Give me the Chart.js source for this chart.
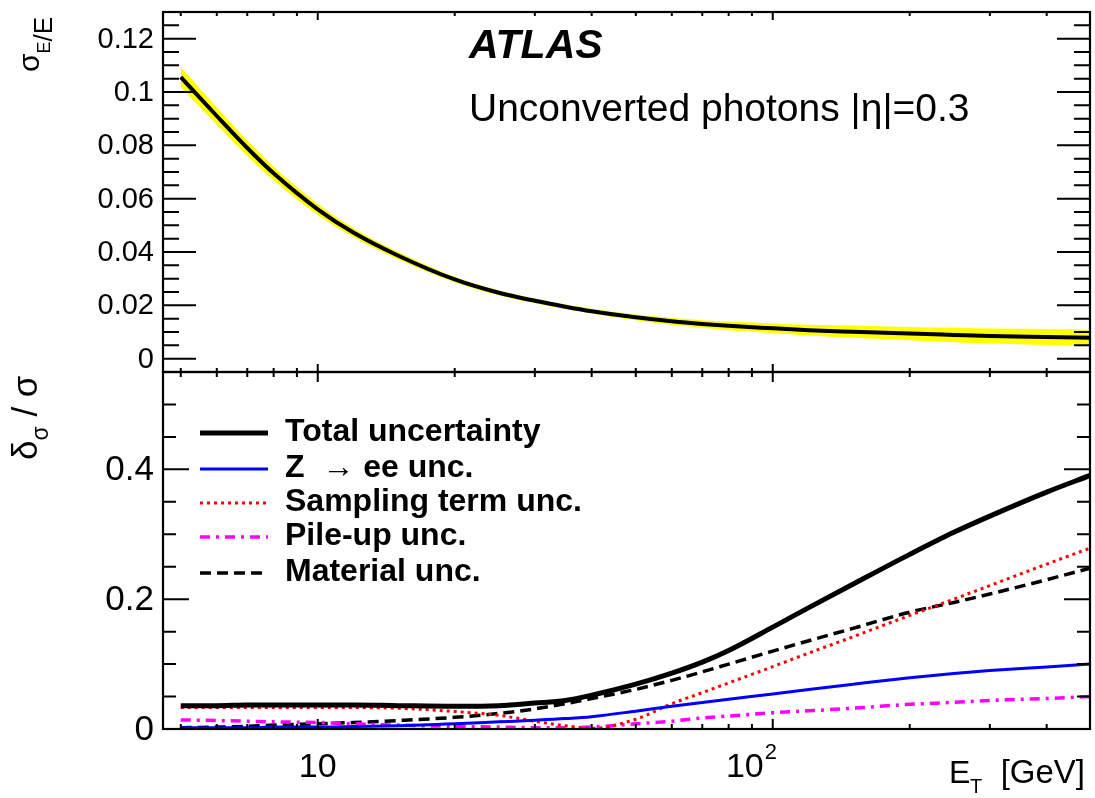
<!DOCTYPE html>
<html><head><meta charset="utf-8">
<script src="https://cdn.jsdelivr.net/npm/chart.js@4.4.1/dist/chart.umd.min.js"></script>
<style>
html,body{margin:0;padding:0;background:#fff;}
#wrap{position:relative;width:1095px;height:798px;overflow:hidden;background:#fff;}
#wrap canvas{position:absolute;left:0;top:0;}
</style></head><body>
<div id="wrap">
<canvas id="cTop" width="1095" height="798"></canvas>
<canvas id="cBot" width="1095" height="798"></canvas>
</div>
<script>
// ---------------- data ----------------
const energies    = [5, 6, 7, 8, 10, 12, 15, 20, 25, 30, 35, 40, 50, 60, 70, 80, 100, 120, 150, 200, 250, 300, 400, 500];
const resolution  = [0.1056,0.091,0.079,0.0695,0.0560,0.0472,0.0387,0.0297,0.0247,0.0217,0.0195,0.0178,0.0155,0.0140,0.0130,0.0123,0.0114,0.0107,0.0101,0.0094,0.0089,0.0085,0.0081,0.0078];
const bandUpper   = [0.1094,0.0943,0.0819,0.0721,0.0581,0.0489,0.0401,0.0307,0.0256,0.0226,0.0204,0.0187,0.0166,0.0153,0.0144,0.0139,0.0132,0.0127,0.0124,0.0119,0.0116,0.0113,0.0111,0.0108];
const bandLower   = [0.1018,0.0877,0.0761,0.0669,0.0539,0.0455,0.0373,0.0287,0.0238,0.0208,0.0186,0.0169,0.0144,0.0127,0.0116,0.0107,0.0096,0.0087,0.0078,0.0069,0.0062,0.0057,0.0051,0.0048];
const totalUnc    = [0.036,0.036,0.037,0.037,0.037,0.037,0.036,0.035,0.036,0.040,0.044,0.052,0.069,0.086,0.103,0.121,0.157,0.187,0.223,0.269,0.303,0.328,0.365,0.391];
const zeeUnc      = [0.002,0.002,0.002,0.003,0.003,0.004,0.005,0.008,0.011,0.0135,0.016,0.019,0.0275,0.035,0.041,0.046,0.054,0.061,0.069,0.079,0.0855,0.090,0.0955,0.1004];
const samplingUnc = [0.033,0.033,0.033,0.033,0.033,0.033,0.032,0.027,0.021,0.012,0.005,0.001,0.015,0.039,0.056,0.071,0.096,0.117,0.142,0.175,0.200,0.221,0.254,0.279];
const pileupUnc   = [0.014,0.013,0.012,0.011,0.010,0.008,0.006,0.004,0.003,0.002,0.002,0.003,0.008,0.012,0.017,0.020,0.025,0.028,0.032,0.038,0.041,0.044,0.047,0.050];
const materialUnc = [0.002,0.003,0.004,0.006,0.008,0.010,0.013,0.018,0.024,0.031,0.039,0.047,0.061,0.075,0.088,0.100,0.120,0.136,0.155,0.180,0.195,0.208,0.230,0.248];

const seriesLabels = ['Total uncertainty', 'Z  \u2192 ee unc.', 'Sampling term unc.', 'Pile-up unc.', 'Material unc.'];

// ---------------- ticks ----------------
const xMajorTicks = [10, 100];
const xMinorTicks = [5, 6, 7, 8, 9, 20, 30, 40, 50, 60, 70, 80, 90, 200, 300, 400];
const xTickBase   = ['10', '10'];
const xTickExp    = ['', '2'];
const yTopMajor   = [0, 0.02, 0.04, 0.06, 0.08, 0.1, 0.12];
const yTopLabels  = ['0', '0.02', '0.04', '0.06', '0.08', '0.1', '0.12'];
const yBotMajor   = [0, 0.2, 0.4];
const yBotLabels  = ['0', '0.2', '0.4'];
const yTopMinorStep = 0.005;
const yBotMinorStep = 0.05;

const FONT = '"Liberation Sans", Arial, Helvetica, sans-serif';

function pts(arr) { return energies.map((e, i) => ({x: e, y: arr[i]})); }

function minorList(min, max, step, majors) {
  const out = [];
  for (let k = Math.ceil(min / step - 1e-9); k * step <= max + 1e-9; k++) {
    const v = +(k * step).toFixed(6);
    if (!majors.some(m => Math.abs(m - v) < 1e-9)) out.push(v);
  }
  return out;
}

function rotatedRuns(ctx, x, y, runs) {
  ctx.save();
  ctx.translate(x, y);
  ctx.rotate(-Math.PI / 2);
  ctx.textAlign = 'left';
  ctx.textBaseline = 'alphabetic';
  let cx = 0;
  runs.forEach(r => {
    ctx.font = r.font;
    ctx.fillText(r.text, cx, r.dy || 0);
    cx += ctx.measureText(r.text).width + (r.gap || 0);
  });
  ctx.restore();
}

function rootFrame(o) {
  return {
    id: 'rootFrame',
    afterDraw(chart) {
      const ctx = chart.ctx, a = chart.chartArea, xs = chart.scales.x, ys = chart.scales.y;
      ctx.save();
      ctx.strokeStyle = '#000';
      ctx.lineWidth = 2;
      const xt = (list, len) => list.forEach(v => {
        const p = xs.getPixelForValue(v);
        ctx.beginPath();
        ctx.moveTo(p, a.bottom); ctx.lineTo(p, a.bottom - len);
        ctx.moveTo(p, a.top); ctx.lineTo(p, a.top + len);
        ctx.stroke();
      });
      xt(xMajorTicks, o.xMaj); xt(xMinorTicks, o.xMin);
      const yt = (list, len) => list.forEach(v => {
        const p = ys.getPixelForValue(v);
        ctx.beginPath();
        ctx.moveTo(a.left, p); ctx.lineTo(a.left + len, p);
        ctx.moveTo(a.right, p); ctx.lineTo(a.right - len, p);
        ctx.stroke();
      });
      yt(o.yMajor, o.yMaj);
      yt(minorList(ys.min, ys.max, o.yStep, o.yMajor), o.yMin);
      ctx.lineWidth = 2.2;
      ctx.strokeRect(a.left, a.top, a.right - a.left, a.bottom - a.top);
      ctx.fillStyle = '#000';
      ctx.font = o.yFont;
      ctx.textAlign = 'right';
      ctx.textBaseline = 'middle';
      o.yMajor.forEach((v, i) => ctx.fillText(o.yLabels[i], a.left - 9, ys.getPixelForValue(v) + 1));
      if (o.extra) o.extra(chart, ctx, a, xs, ys);
      ctx.restore();
    }
  };
}

const common = {
  responsive: false,
  animation: false,
  devicePixelRatio: 1,
  events: [],
  plugins: { legend: { display: false }, tooltip: { enabled: false } },
  elements: { point: { radius: 0 }, line: { cubicInterpolationMode: 'monotone' } }
};

// ---------------- top panel ----------------
new Chart(document.getElementById('cTop'), {
  type: 'line',
  data: {
    datasets: [
      { data: pts(resolution), borderColor: '#000', borderWidth: 4, fill: false },
      { data: pts(bandUpper), borderWidth: 0, borderColor: 'rgba(0,0,0,0)', backgroundColor: '#ffff00', fill: '+1' },
      { data: pts(bandLower), borderWidth: 0, borderColor: 'rgba(0,0,0,0)', fill: false }
    ]
  },
  options: Object.assign({}, common, {
    layout: { padding: { left: 163, right: 5, top: 12, bottom: 798 - 372 } },
    scales: {
      x: { type: 'logarithmic', min: 4.57, max: 498, display: false },
      y: { type: 'linear', min: -0.005, max: 0.13, display: false }
    }
  }),
  plugins: [rootFrame({
    xMaj: 8, xMin: 4, yMaj: 33, yMin: 16,
    yMajor: yTopMajor, yLabels: yTopLabels, yStep: yTopMinorStep,
    yFont: '29px ' + FONT,
    extra(chart, ctx) {
      ctx.textAlign = 'left';
      ctx.textBaseline = 'alphabetic';
      ctx.font = 'italic bold 41px ' + FONT;
      ctx.fillText('ATLAS', 469, 58);
      ctx.font = '39px ' + FONT;
      ctx.fillText('Unconverted photons |\u03b7|=0.3', 469, 121);
      rotatedRuns(ctx, 52, 72, [
        { text: '\u03c3', font: '30px ' + FONT, dy: -13 },
        { text: 'E', font: '18px ' + FONT, dy: -2 },
        { text: '/E', font: '26px ' + FONT, dy: 0 }
      ]);
    }
  })]
});

// ---------------- bottom panel ----------------
new Chart(document.getElementById('cBot'), {
  type: 'line',
  data: {
    datasets: [
      { label: seriesLabels[0], data: pts(totalUnc), borderColor: '#000000', borderWidth: 5, fill: false },
      { label: seriesLabels[1], data: pts(zeeUnc), borderColor: '#0000ff', borderWidth: 3, fill: false },
      { label: seriesLabels[2], data: pts(samplingUnc), borderColor: '#ff0000', borderWidth: 3, borderDash: [3, 4], fill: false },
      { label: seriesLabels[3], data: pts(pileupUnc), borderColor: '#ff00ff', borderWidth: 3.5, borderDash: [10, 6, 3, 6], fill: false },
      { label: seriesLabels[4], data: pts(materialUnc), borderColor: '#000000', borderWidth: 3.5, borderDash: [11, 6], fill: false }
    ]
  },
  options: Object.assign({}, common, {
    layout: { padding: { left: 163, right: 5, top: 372, bottom: 798 - 729 } },
    scales: {
      x: { type: 'logarithmic', min: 4.57, max: 498, display: false },
      y: { type: 'linear', min: 0, max: 0.55, display: false }
    }
  }),
  plugins: [rootFrame({
    xMaj: 10, xMin: 5, yMaj: 26, yMin: 13,
    yMajor: yBotMajor, yLabels: yBotLabels, yStep: yBotMinorStep,
    yFont: '35px ' + FONT,
    extra(chart, ctx, a, xs, ys) {
      ctx.textBaseline = 'alphabetic';
      xMajorTicks.forEach((v, i) => {
        const p = xs.getPixelForValue(v);
        ctx.font = '34px ' + FONT;
        if (!xTickExp[i]) {
          ctx.textAlign = 'center';
          ctx.fillText(xTickBase[i], p, 777);
        } else {
          ctx.textAlign = 'right';
          ctx.fillText(xTickBase[i], p - 9, 777);
          ctx.textAlign = 'left';
          ctx.font = '22px ' + FONT;
          ctx.fillText(xTickExp[i], p - 8, 759);
        }
      });
      ctx.textAlign = 'left';
      ctx.font = '32px ' + FONT;
      ctx.fillText('E', 949, 783);
      ctx.font = '20px ' + FONT;
      ctx.fillText('T', 970, 793);
      ctx.font = '33px ' + FONT;
      ctx.textAlign = 'right';
      ctx.fillText('[GeV]', 1085, 783);
      rotatedRuns(ctx, 37, 460, [
        { text: '\u03b4', font: '35px ' + FONT, dy: 0 },
        { text: '\u03c3', font: '23px ' + FONT, dy: 11 },
        { text: ' / \u03c3', font: '35px ' + FONT, dy: 0 }
      ]);
      const rows = [433, 469, 503, 537, 573];
      chart.data.datasets.forEach((ds, i) => {
        const y = rows[i];
        ctx.save();
        ctx.strokeStyle = ds.borderColor;
        ctx.lineWidth = ds.borderWidth;
        ctx.setLineDash(ds.borderDash || []);
        ctx.beginPath();
        ctx.moveTo(200, y); ctx.lineTo(268, y);
        ctx.stroke();
        ctx.restore();
        ctx.fillStyle = '#000';
        ctx.textAlign = 'left';
        ctx.font = 'bold 32px ' + FONT;
        ctx.fillText(ds.label, 285, y + 8);
      });
    }
  })]
});
</script>
</body></html>
